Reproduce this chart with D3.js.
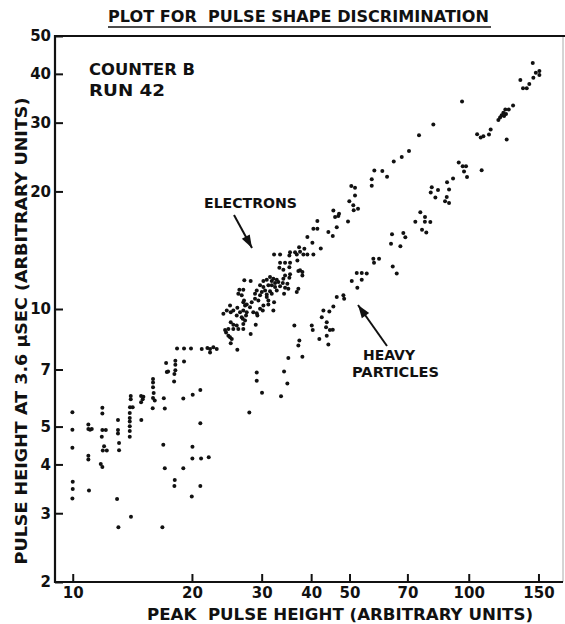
<!DOCTYPE html>
<html>
<head>
<meta charset="utf-8">
<script src="https://cdn.jsdelivr.net/npm/d3@7"></script>
<style>
  html, body { margin: 0; padding: 0; background: #fff; }
  svg { display: block; }
  text { font-family: "DejaVu Sans", "Liberation Sans", sans-serif; font-weight: bold; fill: #111; white-space: pre; }
</style>
</head>
<body>
<svg id="chart" width="565" height="624"></svg>
<script>
// ---- data ----
const xTicks = [10, 20, 30, 40, 50, 70, 100, 150];
const yTicks = [2, 3, 4, 5, 7, 10, 20, 30, 40, 50];
const xDomain = [9.02, 173];
const yDomain = [2, 50];

// Upper band: electrons  [peak pulse height, pulse height at 3.6 usec]
const electrons = [
  [9.98,5.44],[9.98,4.91],[9.98,4.41],
  [10.95,5.06],[10.95,4.93],[11.06,4.91],[11.17,4.93],
  [11.88,5.59],[11.88,5.40],[11.88,4.90],[12.12,4.90],[11.84,4.71],[12.00,4.45],[11.91,4.34],[12.19,4.34],
  [13.01,5.20],[13.01,4.90],[13.01,4.80],[13.09,4.54],[13.09,4.35],
  [14.01,5.99],[14.01,5.87],[13.95,5.60],[14.17,5.60],[13.93,5.42],[13.93,5.26],[13.93,5.15],[13.93,5.01],[13.93,4.87],[13.93,4.71],
  [14.88,5.99],[15.08,5.96],[15.02,5.87],[14.88,5.77],[14.90,5.20],
  [15.95,6.62],[15.95,6.48],[15.95,6.30],[16.01,6.09],[15.95,5.92],[16.11,5.83],[15.92,5.57],
  [16.98,5.91],[17.08,5.56],
  [17.21,7.27],[17.28,6.90],[17.41,6.92],
  [18.16,7.37],[18.16,7.20],[18.16,6.97],[18.06,6.82],[18.03,6.52],
  [19.10,7.34],[21.00,6.20],
  [18.34,7.92],[19.10,7.92],[19.89,7.92],
  [21.17,7.90],[21.88,7.95],[22.22,7.90],[22.65,7.98],[23.10,7.90],[22.22,7.74],
  [24.01,9.72],[24.25,8.84],[24.39,8.71],[24.49,9.91],[24.72,8.89],[24.72,8.54],[24.96,10.21],[24.96,8.46],
  [25.06,9.81],[25.06,9.25],[25.06,8.17],[25.21,8.38],[25.44,9.91],[25.44,9.11],[25.44,8.89],[25.95,9.62],
  [25.95,9.07],[26.04,10.08],[26.04,7.87],[26.19,10.94],[26.19,8.89],[26.35,11.21],[26.45,9.81],[26.71,10.84],
  [26.71,9.52],[26.87,9.44],[26.96,11.21],[26.96,10.41],[26.96,9.91],[26.96,9.16],[26.96,8.89],[27.07,10.52],
  [27.12,11.84],[27.23,10.21],[27.23,9.34],[27.39,9.62],[27.50,10.27],[27.50,9.81],[28.03,10.11],[28.14,11.79],
  [28.14,8.63],[28.31,10.41],[28.57,9.81],[28.86,10.94],[28.86,10.63],[28.98,9.11],[29.15,11.16],[29.15,9.75],
  [29.26,9.62],[29.43,10.52],[29.72,11.50],[29.72,10.84],[29.72,10.02],[30.02,11.05],[30.19,9.91],[30.30,11.79],
  [30.30,11.38],[30.30,10.21],[30.60,11.16],[30.90,11.89],[30.90,10.90],[30.90,10.73],[31.19,11.50],[31.19,10.52],
  [31.19,10.27],[31.49,12.07],[31.49,11.11],[31.81,11.79],[31.81,11.50],[31.81,10.94],[32.11,11.96],[32.11,9.91],
  [32.24,13.79],[32.24,10.41],[32.43,11.65],[32.43,11.38],[32.75,11.89],[32.75,11.16],[33.06,11.72],[33.25,12.75],
  [33.39,13.79],[33.39,13.13],[33.39,11.43],[33.92,11.65],[34.03,12.60],[34.03,11.96],[34.17,10.94],[34.37,13.13],
  [34.37,12.19],[34.37,11.34],[34.83,11.61],[35.03,11.27],[35.24,13.71],[35.24,12.79],[35.24,12.03],[35.38,13.98],
  [35.38,13.13],[35.38,12.27],[36.43,13.98],[36.79,13.79],[36.79,11.05],[36.92,13.31],[37.13,12.51],[37.13,11.27],
  [37.29,14.40],[37.50,14.02],[37.50,12.56],[38.01,12.43],[38.01,12.19],[38.23,13.79],[38.45,14.26],[39.13,15.28],
  [39.13,13.79],[40.29,14.78],[40.52,16.05],[40.52,13.79],[41.47,16.79],[41.47,16.05],[42.30,14.29],[44.21,15.74],
  [45.36,15.37],[45.51,17.86],[45.97,17.19],[46.85,17.30],[47.04,17.54],[46.42,16.20],[49.56,16.76],[50.52,20.66],
  [51.62,20.45],[51.62,19.52],[49.94,18.88],[51.11,18.44],[52.53,18.07],[51.23,17.89],[57.76,22.61],[60.51,22.57],
  [62.19,21.82],[56.89,21.49],[56.89,20.69],[67.73,24.51],[64.66,23.86],[70.66,25.40],[74.89,27.87],[81.40,29.69],
  [96.18,33.96]
];

// Lower band: heavy particles
const heavy = [
  [10.0,3.61],[10.0,3.46],[9.98,3.27],[10.95,4.21],[10.95,4.12],[10.99,3.43],[11.77,4.01],[11.88,3.94],
  [12.94,3.26],[13.04,2.76],[14.03,2.94],[16.84,2.76],[16.93,4.49],[17.08,3.91],[18.10,3.65],[18.06,3.52],
  [19.02,3.91],[19.02,5.90],[20.09,6.03],[19.98,3.31],[20.06,4.44],[20.05,4.14],[21.09,4.14],[22.05,4.17],
  [21.00,5.10],[21.00,3.52],[27.92,5.43],[29.15,6.88],[29.15,6.55],[30.06,6.10],[33.57,5.98],[34.17,6.92],
  [34.83,6.45],[38.01,7.55],[35.03,7.49],[37.35,8.30],[37.13,8.06],[36.28,9.07],[40.14,9.07],[40.37,8.84],
  [43.62,8.98],[44.6,8.84],[45.36,8.85],[43.8,8.54],[41.95,8.38],[44.21,8.11],[45.51,10.15],[44.46,9.85],
  [42.95,9.91],[42.55,9.52],[43.8,9.25],[46.42,10.73],[48.25,10.84],[48.46,10.62],[50.65,11.79],[52.14,12.36],
  [53.68,12.36],[55.26,12.32],[53.68,11.89],[52.32,11.34],[57.42,13.44],[59.36,13.44],[57.65,13.13],[64.28,12.85],
  [65.79,12.32],[64.01,15.53],[63.64,14.69],[68.37,15.65],[69.17,15.26],[67.20,14.48],[75.46,17.68],[77.55,17.19],
  [77.49,16.73],[79.98,16.69],[73.31,16.73],[76.21,15.96],[78.13,15.71],[87.99,19.36],[87.13,18.88],[89.18,18.69],
  [91.28,21.58],[88.15,21.12],[89.18,20.23],[83.64,20.18],[80.65,20.50],[80.17,19.87],[82.37,19.29],[94.35,23.72],
  [96.55,23.20],[98.44,23.20],[97.30,22.49],[99.01,21.78],[107.8,22.66],[113.6,28.82],[112.5,27.98],[108.9,27.70],
  [107.2,27.49],[105.0,28.03],[124.7,27.16],[129.4,33.20],[126.2,32.43],[123.7,32.43],[122.3,31.78],[124.2,31.55],
  [121.1,31.36],[118.8,30.45],[120.0,30.93],[122.8,31.18],[135.0,38.6],[137.1,36.72],[140.1,36.72],[145.6,39.08],
  [142.2,37.66],[147.7,40.25],[150.8,40.66],[150.8,39.71],[145.1,42.63]
];

const titleText = "PLOT FOR  PULSE SHAPE DISCRIMINATION";
const xTitle = "PEAK  PULSE HEIGHT (ARBITRARY UNITS)";
const yTitle = "PULSE HEIGHT AT 3.6 \u03BCSEC (ARBITRARY UNITS)";
const infoLines = ["COUNTER B", "RUN 42"];

// ---- layout ----
const L = 55, R = 563, T = 36, B = 582;
const svg = d3.select("#chart");
const x = d3.scaleLog().domain(xDomain).range([L, R]);
const y = d3.scaleLog().domain(yDomain).range([B, T]);
const ink = "#111";

// frame
svg.append("line").attr("x1", R).attr("x2", R).attr("y1", T).attr("y2", B)
  .attr("stroke", "#aaa").attr("stroke-width", 1);
svg.append("line").attr("x1", L - 1).attr("x2", 565).attr("y1", T).attr("y2", T)
  .attr("stroke", ink).attr("stroke-width", 2);
svg.append("line").attr("x1", L).attr("x2", L).attr("y1", T - 1).attr("y2", B + 1)
  .attr("stroke", ink).attr("stroke-width", 2.2);
svg.append("line").attr("x1", L - 1).attr("x2", R).attr("y1", B).attr("y2", B)
  .attr("stroke", ink).attr("stroke-width", 2.2);

// axes
const xAxis = d3.axisBottom(x).tickValues(xTicks).tickSize(-8).tickPadding(5)
  .tickFormat(d3.format("d"));
const gx = svg.append("g").attr("transform", `translate(0,${B})`).call(xAxis);
const yAxis = d3.axisLeft(y).tickValues(yTicks).tickSize(-8).tickPadding(4)
  .tickFormat(d3.format("d"));
const gy = svg.append("g").attr("transform", `translate(${L},0)`).call(yAxis);
[gx, gy].forEach(g => {
  g.select(".domain").remove();
  g.selectAll(".tick line").attr("stroke", ink).attr("stroke-width", 2);
  g.selectAll(".tick text").attr("fill", ink).style("font-size", "15px")
    .style("font-family", "'DejaVu Sans', sans-serif").style("font-weight", "bold");
});

// points
const pts = svg.append("g");
pts.selectAll("circle.e").data(electrons).join("circle").attr("class", "e")
  .attr("cx", d => x(d[0])).attr("cy", d => y(d[1])).attr("r", 2).attr("fill", ink);
pts.selectAll("circle.h").data(heavy).join("circle").attr("class", "h")
  .attr("cx", d => x(d[0])).attr("cy", d => y(d[1])).attr("r", 2).attr("fill", ink);

// texts
function label(txt, px, py, size, len, anchor) {
  const t = svg.append("text").attr("x", px).attr("y", py).text(txt)
    .style("font-size", size + "px").attr("text-anchor", anchor || "start");
  if (len) t.attr("textLength", len).attr("lengthAdjust", "spacingAndGlyphs");
  return t;
}
label(titleText, 108, 22, 15, 381);
svg.append("line").attr("x1", 108).attr("x2", 491).attr("y1", 27).attr("y2", 27)
  .attr("stroke", ink).attr("stroke-width", 1.5);

label(infoLines[0], 89, 75, 16, 106);
label(infoLines[1], 89, 96, 16, 76);

label("ELECTRONS", 204, 208, 14, 93);
label("HEAVY", 363, 360, 14, 52);
label("PARTICLES", 352, 377, 14, 87);

label(xTitle, 147, 620, 16, 386);
svg.append("text").attr("transform", "translate(27,331) rotate(-90)")
  .attr("text-anchor", "middle").style("font-size", "16px")
  .attr("textLength", 467).attr("lengthAdjust", "spacingAndGlyphs").text(yTitle);

// arrows
function arrow(x1, y1, x2, y2) {
  svg.append("line").attr("x1", x1).attr("y1", y1).attr("x2", x2).attr("y2", y2)
    .attr("stroke", ink).attr("stroke-width", 2);
  const a = Math.atan2(y2 - y1, x2 - x1), len = 13, w = 4.5;
  const bx = x2 - len * Math.cos(a), by = y2 - len * Math.sin(a);
  const p = [[x2, y2], [bx + w * Math.sin(a), by - w * Math.cos(a)], [bx - w * Math.sin(a), by + w * Math.cos(a)]];
  svg.append("path").attr("d", "M" + p.join("L") + "Z").attr("fill", ink);
}
arrow(234, 215, 252, 248);
arrow(387, 346, 358, 305);
</script>
</body>
</html>
